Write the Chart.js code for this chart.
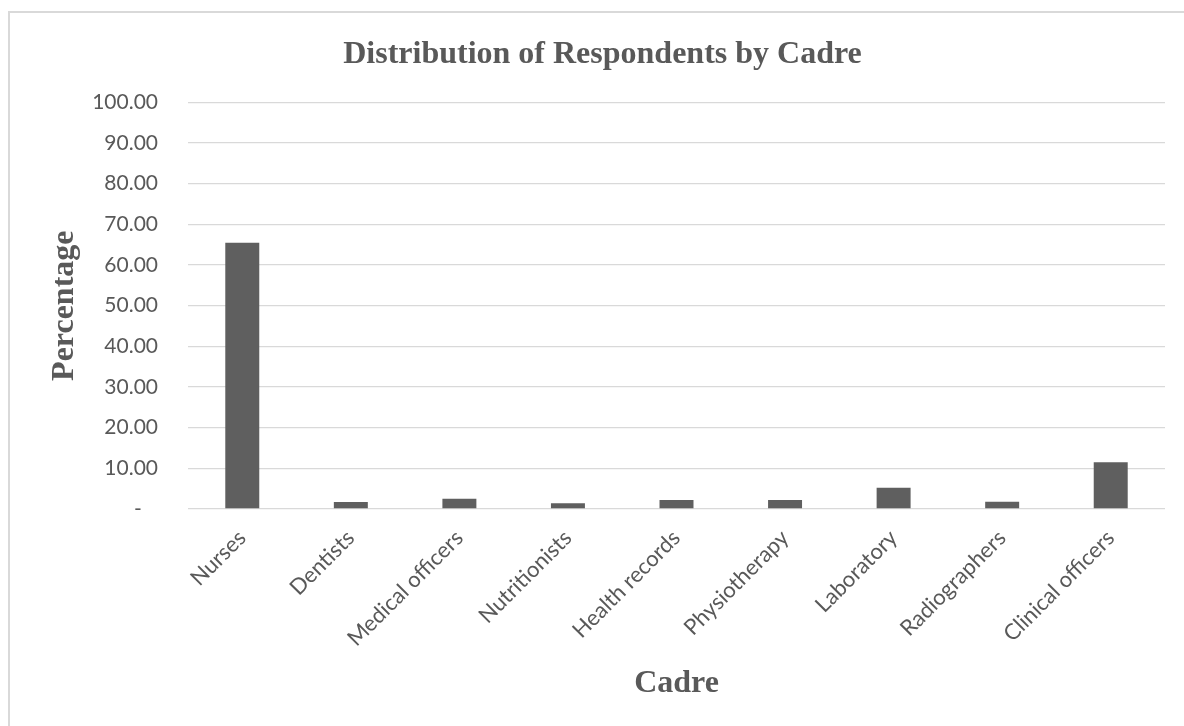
<!DOCTYPE html>
<html>
<head>
<meta charset="utf-8">
<script src="https://cdn.jsdelivr.net/npm/chart.js@4/dist/chart.umd.min.js"></script>
<style>
  html, body { margin: 0; padding: 0; background: #ffffff; overflow: hidden; }
  #wrap { position: relative; width: 1184px; height: 726px; }
  #frame {
    position: absolute; left: 8px; top: 11px; width: 1200px; height: 760px;
    border-left: 2px solid #d9d9d9; border-top: 2px solid #d9d9d9;
    box-sizing: border-box; pointer-events: none;
  }
  canvas { position: absolute; left: 0; top: 0; }
</style>
</head>
<body>
<div id="wrap">
  <div id="frame"></div>
  <canvas id="chart" width="1184" height="726"></canvas>
</div>
<script>
// Share of respondents per cadre (%)
const cadres = ['Nurses', 'Dentists', 'Medical officers', 'Nutritionists', 'Health records',
                'Physiotherapy', 'Laboratory', 'Radiographers', 'Clinical officers'];
const percentages = [65.5, 1.7, 2.5, 1.4, 2.2, 2.2, 5.2, 1.8, 11.5];
const yTicks = [0, 10, 20, 30, 40, 50, 60, 70, 80, 90, 100];

const titleText = 'Distribution of Respondents by Cadre';
const xTitle = 'Cadre';
const yTitle = 'Percentage';

const textGrey = '#595959';
const serifBold = { family: "'Liberation Serif', 'Times New Roman', serif", size: 32, weight: 'bold' };
const yTickFont = { family: "Lato, 'Open Sans', sans-serif", size: 21 };
const xTickFont = { family: "Lato, 'Open Sans', sans-serif", size: 22 };

new Chart(document.getElementById('chart'), {
  type: 'bar',
  data: {
    labels: cadres,
    datasets: [{
      data: percentages,
      backgroundColor: '#5f5f5f',
      borderWidth: 0,
      categoryPercentage: 1,
      barPercentage: 0.313
    }]
  },
  options: {
    responsive: false,
    animation: false,
    devicePixelRatio: 1,
    layout: { padding: { top: 0, left: 40, right: 19, bottom: 0 } },
    plugins: {
      legend: { display: false },
      tooltip: { enabled: false },
      title: {
        display: true,
        text: titleText,
        color: textGrey,
        font: serifBold,
        padding: { top: 36, bottom: 28 }
      }
    },
    scales: {
      x: {
        grid: { display: false, drawTicks: false },
        border: { display: false },
        ticks: {
          color: textGrey,
          font: xTickFont,
          minRotation: 45,
          maxRotation: 45,
          padding: 16,
          autoSkip: false
        },
        title: {
          display: true,
          text: xTitle,
          color: textGrey,
          font: serifBold,
          padding: { top: 4, bottom: 23 }
        },
        afterFit(scale) { scale.height = 217; }
      },
      y: {
        min: 0,
        max: 100,
        grid: { color: '#d9d9d9', lineWidth: 1.3, drawTicks: false },
        border: { display: false },
        afterBuildTicks(scale) { scale.ticks = yTicks.map(v => ({ value: v })); },
        ticks: {
          color: textGrey,
          font: yTickFont,
          padding: 30,
          callback: (v) => v === 0 ? '-   ' : v.toFixed(2)
        },
        title: {
          display: true,
          text: yTitle,
          color: textGrey,
          font: serifBold,
          padding: { top: 6, bottom: 0 }
        },
        afterFit(scale) { scale.width = 148; }
      }
    }
  }
});
</script>
</body>
</html>
